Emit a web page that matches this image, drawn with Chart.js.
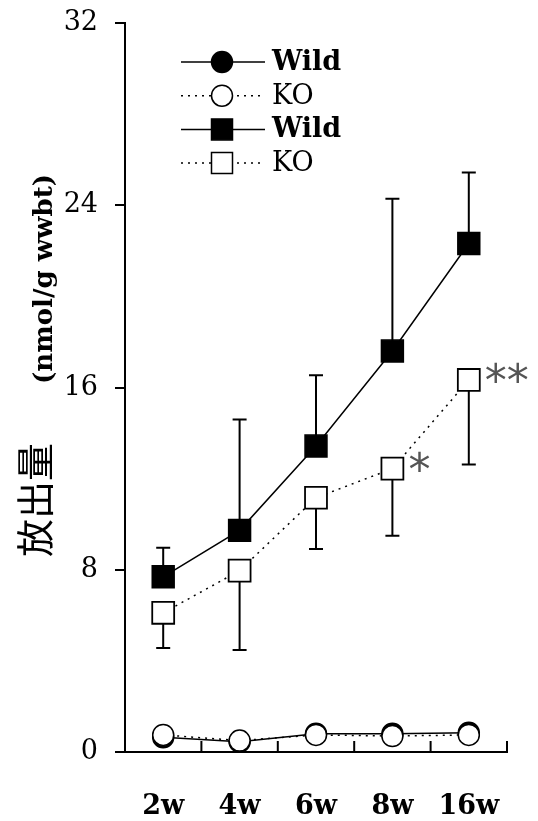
<!DOCTYPE html>
<html><head><meta charset="utf-8">
<script src="https://cdn.jsdelivr.net/npm/chart.js@4"></script>
<style>html,body{margin:0;padding:0;background:#fff;} canvas{display:block;}</style>
</head><body>
<canvas id="c" width="538" height="821"></canvas>
<script>
// ---- data ----
const categories = ['2w', '4w', '6w', '8w', '16w'];
const wildCircle = [0.65, 0.45, 0.8, 0.8, 0.85];
const koCircle   = [0.75, 0.5, 0.75, 0.7, 0.75];
const wildSquare   = [7.69, 9.73, 13.43, 17.6, 22.32];
const wildSquareSD = [1.28, 4.86, 3.11, 6.69, 3.12];
const koSquare     = [6.11, 7.96, 11.16, 12.44, 16.33];
const koSquareSD   = [1.54, 3.48, 2.25, 2.95, 3.71];
const koSquareSig  = ['', '', '', '*', '**'];
const yTicks = [0, 8, 16, 24, 32];
const legendLabels = ['Wild', 'KO', 'Wild', 'KO'];
const yTitleUnit = '(nmol/g wwbt)';
const yTitleMain = '放出量';

const SERIF = '"DejaVu Serif", serif';

const errorBars = {
  id: 'errorBars',
  beforeDatasetsDraw(chart) {
    const ctx = chart.ctx, ys = chart.scales.y;
    chart.data.datasets.forEach((ds, i) => {
      if (!ds.sd) return;
      const meta = chart.getDatasetMeta(i);
      ctx.save();
      ctx.strokeStyle = '#000'; ctx.lineWidth = 2;
      ds.data.forEach((v, j) => {
        const p = meta.data[j];
        const y0 = ys.getPixelForValue(v);
        const y1 = ys.getPixelForValue(v + ds.errDir * ds.sd[j]);
        ctx.beginPath();
        ctx.moveTo(p.x, y0); ctx.lineTo(p.x, y1);
        ctx.moveTo(p.x - 7, y1); ctx.lineTo(p.x + 7, y1);
        ctx.stroke();
      });
      ctx.restore();
    });
  }
};

const xInnerTicks = {
  id: 'xInnerTicks',
  afterDatasetsDraw(chart) {
    const ctx = chart.ctx, xs = chart.scales.x;
    const n = chart.data.labels.length;
    ctx.save();
    ctx.strokeStyle = '#000'; ctx.lineWidth = 2;
    for (let i = 1; i <= n; i++) {
      const x = i < n ? (xs.getPixelForValue(i - 1) + xs.getPixelForValue(i)) / 2 : xs.right;
      ctx.beginPath();
      ctx.moveTo(x, xs.top); ctx.lineTo(x, xs.top - 11);
      ctx.stroke();
    }
    ctx.restore();
  }
};

const sigMarks = {
  id: 'sigMarks',
  afterDatasetsDraw(chart) {
    const ctx = chart.ctx;
    chart.data.datasets.forEach((ds, i) => {
      if (!ds.sig) return;
      const meta = chart.getDatasetMeta(i);
      ctx.save();
      ctx.fillStyle = '#555';
      ctx.font = '44px "DejaVu Sans"';
      ctx.textAlign = 'left'; ctx.textBaseline = 'alphabetic';
      ds.sig.forEach((s, j) => {
        if (!s) return;
        const p = meta.data[j];
        ctx.fillText(s, p.x + 16, p.y + 16);
      });
      ctx.restore();
    });
  }
};

const customLegend = {
  id: 'customLegend',
  afterDraw(chart) {
    const ctx = chart.ctx, a = chart.chartArea;
    chart.data.datasets.forEach((ds, i) => {
      const y = a.top + 39 + i * 33.7;
      const x0 = a.left + 56, x1 = a.left + 140, xm = a.left + 97;
      ctx.save();
      ctx.strokeStyle = '#000'; ctx.lineWidth = 1.5;
      ctx.setLineDash(ds.borderDash || []);
      ctx.beginPath(); ctx.moveTo(x0, y); ctx.lineTo(x1, y); ctx.stroke();
      ctx.setLineDash([]);
      ctx.fillStyle = ds.pointBackgroundColor;
      ctx.lineWidth = 1.5;
      ctx.beginPath();
      if (ds.pointStyle === 'circle') {
        ctx.arc(xm, y, 10.5, 0, Math.PI * 2);
      } else {
        ctx.rect(xm - 10.5, y - 10.5, 21, 21);
      }
      ctx.fill(); ctx.stroke();
      ctx.fillStyle = '#000';
      ctx.font = (ds.label === 'Wild' ? 'bold ' : '') + '27px ' + SERIF;
      ctx.textAlign = 'left'; ctx.textBaseline = 'middle';
      ctx.fillText(ds.label, a.left + 147, y + 1);
      ctx.restore();
    });
  }
};

const yTitle = {
  id: 'yTitle',
  afterDraw(chart) {
    const ctx = chart.ctx;
    ctx.save();
    ctx.fillStyle = '#000';
    ctx.textAlign = 'center'; ctx.textBaseline = 'middle';
    ctx.translate(45, 279); ctx.rotate(-Math.PI / 2);
    ctx.font = 'bold 26px ' + SERIF;
    ctx.fillText(yTitleUnit, 0, 0);
    ctx.restore();
    ctx.save();
    ctx.fillStyle = '#000';
    ctx.textAlign = 'center'; ctx.textBaseline = 'middle';
    ctx.translate(35, 500); ctx.rotate(-Math.PI / 2);
    ctx.font = '38px "Noto Sans CJK JP"';
    ctx.fillText(yTitleMain, 0, 0);
    ctx.restore();
  }
};

new Chart(document.getElementById('c'), {
  type: 'line',
  data: {
    labels: categories,
    datasets: [
      { label: legendLabels[0], data: wildCircle, order: 3,
        borderColor: '#000', borderWidth: 1.5, pointStyle: 'circle', pointRadius: 10.5,
        pointBackgroundColor: '#000', pointBorderColor: '#000', pointBorderWidth: 1.5 },
      { label: legendLabels[1], data: koCircle, order: 2,
        borderColor: '#000', borderWidth: 1.5, borderDash: [2, 5], pointStyle: 'circle', pointRadius: 10.5,
        pointBackgroundColor: '#fff', pointBorderColor: '#000', pointBorderWidth: 1.5 },
      { label: legendLabels[2], data: wildSquare, order: 1, sd: wildSquareSD, errDir: 1,
        borderColor: '#000', borderWidth: 1.5, pointStyle: 'rect', pointRadius: 15.5,
        pointBackgroundColor: '#000', pointBorderColor: '#000', pointBorderWidth: 1.5 },
      { label: legendLabels[3], data: koSquare, order: 0, sd: koSquareSD, errDir: -1, sig: koSquareSig,
        borderColor: '#000', borderWidth: 1.5, borderDash: [2, 5], pointStyle: 'rect', pointRadius: 15.5,
        pointBackgroundColor: '#fff', pointBorderColor: '#000', pointBorderWidth: 1.8 }
    ]
  },
  options: {
    responsive: false, animation: false, devicePixelRatio: 1,
    layout: { padding: { top: 23, right: 31, left: 0, bottom: 0 } },
    plugins: { legend: { display: false }, tooltip: { enabled: false } },
    scales: {
      x: {
        offset: true,
        grid: { display: false },
        border: { display: true, color: '#000', width: 2 },
        ticks: { color: '#000', font: { family: SERIF, size: 27, weight: 'bold' }, padding: 31, maxRotation: 0 },
        afterFit(s) { s.height = 69; s.paddingLeft = 0; s.paddingRight = 0; }
      },
      y: {
        min: 0, max: 32,
        afterBuildTicks(s) { s.ticks = yTicks.map(v => ({ value: v })); },
        grid: { drawOnChartArea: false, drawTicks: true, tickLength: 10, color: '#000', lineWidth: 2 },
        border: { display: true, color: '#000', width: 2 },
        ticks: { color: '#000', font: { family: SERIF, size: 27 }, padding: 17 },
        afterFit(s) { s.width = 125; s.paddingTop = 0; s.paddingBottom = 0; }
      }
    }
  },
  plugins: [errorBars, xInnerTicks, sigMarks, customLegend, yTitle]
});
</script>
</body></html>
